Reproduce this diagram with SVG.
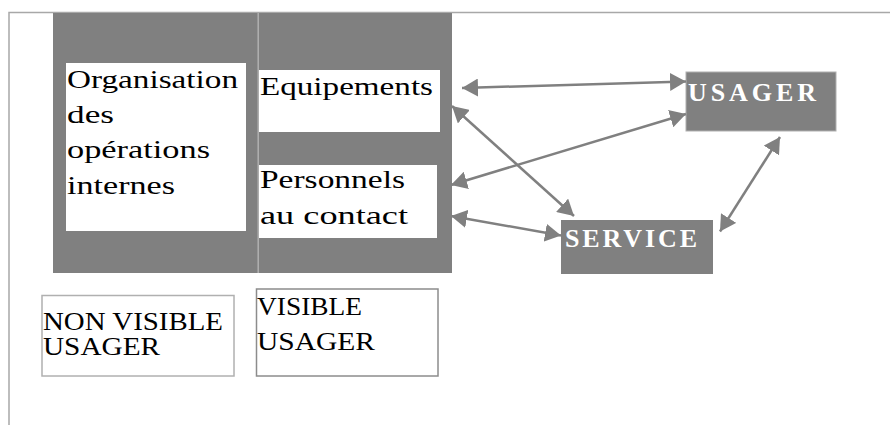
<svg xmlns="http://www.w3.org/2000/svg" width="890" height="425" viewBox="0 0 890 425">
<defs>
<style>
.t{font-family:"Liberation Serif","DejaVu Serif",serif;font-size:25px;fill:#000}
.w{font-family:"Liberation Serif","DejaVu Serif",serif;font-size:26px;font-weight:bold;fill:#fff}
.box{fill:#fff;stroke:none}
.dark{fill:#808080}
.conn{stroke:#808080;stroke-width:2.5;fill:none;marker-start:url(#ah);marker-end:url(#ah)}
</style>
<marker id="ah" viewBox="0 0 16 18" refX="16" refY="9" markerWidth="16" markerHeight="18" markerUnits="userSpaceOnUse" orient="auto-start-reverse">
<path d="M0,0 L16,9 L0,18 z" fill="#808080"/>
</marker>
</defs>
<g id="frame">
<path d="M9,425 L9,12.5 L890,12.5" fill="none" stroke="#a8a8a8" stroke-width="1.5"/>
</g>
<g id="zone">
<rect x="53" y="13" width="399" height="260" class="dark"/>
<line x1="258.2" y1="13" x2="258.2" y2="273" stroke="#b0b0b0" stroke-width="1.5"/>
</g>
<g id="organisation">
<rect x="66" y="63" width="180" height="168" class="box"/>
<text class="t" x="67" y="87.5" textLength="171" lengthAdjust="spacingAndGlyphs">Organisation</text>
<text class="t" x="67" y="123" textLength="47" lengthAdjust="spacingAndGlyphs">des</text>
<text class="t" x="67" y="158" textLength="143" lengthAdjust="spacingAndGlyphs">opérations</text>
<text class="t" x="67" y="194" textLength="108" lengthAdjust="spacingAndGlyphs">internes</text>
</g>
<g id="equipements">
<rect x="259" y="70" width="181" height="62" class="box"/>
<text class="t" x="260" y="95" textLength="173" lengthAdjust="spacingAndGlyphs">Equipements</text>
</g>
<g id="personnels">
<rect x="259" y="165" width="178" height="73" class="box"/>
<text class="t" x="260" y="188" textLength="145" lengthAdjust="spacingAndGlyphs">Personnels</text>
<text class="t" x="260" y="224" textLength="148" lengthAdjust="spacingAndGlyphs">au contact</text>
</g>
<g id="usager">
<rect x="686" y="72" width="150" height="59" class="dark" stroke="#b0b0b0" stroke-width="1"/>
<text class="w" x="688" y="100.5" textLength="128">USAGER</text>
</g>
<g id="service">
<rect x="561" y="220" width="152" height="54" class="dark"/>
<text class="w" x="565" y="246.5" textLength="132">SERVICE</text>
</g>
<g id="nonvisible">
<rect x="42" y="295.5" width="192" height="80.5" fill="#fff" stroke="#b0b0b0" stroke-width="1.5"/>
<text class="t" x="43" y="330" textLength="180" lengthAdjust="spacingAndGlyphs">NON VISIBLE</text>
<text class="t" x="43" y="355" textLength="117" lengthAdjust="spacingAndGlyphs">USAGER</text>
</g>
<g id="visible">
<rect x="256.5" y="289" width="181.5" height="87" fill="#fff" stroke="#8c8c8c" stroke-width="1.5"/>
<text class="t" x="257" y="315" textLength="105" lengthAdjust="spacingAndGlyphs">VISIBLE</text>
<text class="t" x="257" y="350" textLength="118" lengthAdjust="spacingAndGlyphs">USAGER</text>
</g>
<g id="connectors">
<line class="conn" x1="462" y1="88" x2="686" y2="81.5"/>
<line class="conn" x1="452" y1="106" x2="574" y2="216"/>
<line class="conn" x1="451" y1="185" x2="686" y2="114"/>
<line class="conn" x1="451" y1="216" x2="561" y2="235.5"/>
<line class="conn" x1="720" y1="231.5" x2="780" y2="137"/>
</g>
</svg>
